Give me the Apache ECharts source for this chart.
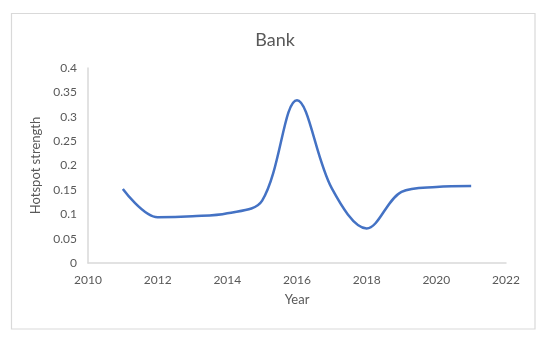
<!DOCTYPE html>
<html>
<head>
<meta charset="utf-8">
<script src="https://cdn.jsdelivr.net/npm/echarts@6/dist/echarts.min.js"></script>
<style>
html,body{margin:0;padding:0;background:#fff;}
#c{width:550px;height:345px;}
</style>
</head>
<body>
<div id="c"></div>
<script>
const years = [2011, 2012, 2013, 2014, 2015, 2016, 2017, 2018, 2019, 2020, 2021];
const strength = [0.152, 0.094, 0.096, 0.102, 0.128, 0.334, 0.153, 0.071, 0.146, 0.156, 0.158];
const titleText = 'Bank';
const xName = 'Year';
const yName = 'Hotspot strength';

const chart = echarts.init(document.getElementById('c'));
const font = 'Lato, "Open Sans", sans-serif';
chart.setOption({
  animation: false,
  textStyle: {fontFamily: font},
  title: {
    text: titleText, left: 'center', top: 26,
    textStyle: {fontSize: 18, fontWeight: 'normal', color: '#595959', fontFamily: font}
  },
  graphic: [{
    type: 'rect', shape: {x: 11.5, y: 13.5, width: 523.5, height: 315.5},
    style: {fill: 'none', stroke: '#d9d9d9', lineWidth: 1.2}, silent: true
  }],
  grid: {left: 88, right: 44, top: 68, bottom: 82},
  xAxis: {
    type: 'value', min: 2010, max: 2022, interval: 2,
    name: xName, nameLocation: 'middle', nameGap: 30,
    nameTextStyle: {fontSize: 13, color: '#595959', fontFamily: font},
    axisLine: {show: true, lineStyle: {color: '#d9d9d9', width: 1.5}},
    axisTick: {show: false},
    splitLine: {show: false},
    axisLabel: {fontSize: 12, color: '#595959', margin: 11, fontFamily: font,
      formatter: v => String(v)}
  },
  yAxis: {
    type: 'value', min: 0, max: 0.4, interval: 0.05,
    name: yName, nameLocation: 'middle', nameGap: 40,
    nameTextStyle: {fontSize: 13, color: '#595959', fontFamily: font},
    axisLine: {show: true, lineStyle: {color: '#d9d9d9', width: 1.5}},
    axisTick: {show: false},
    splitLine: {show: false},
    axisLabel: {fontSize: 12, color: '#595959', margin: 11, fontFamily: font,
      formatter: v => String(Math.round(v * 100) / 100)}
  },
  series: [{
    type: 'line',
    data: years.map((y, i) => [y, strength[i]]),
    smooth: 0.35,
    symbol: 'none',
    lineStyle: {color: '#4472C4', width: 2.5}
  }]
});
</script>
</body>
</html>
